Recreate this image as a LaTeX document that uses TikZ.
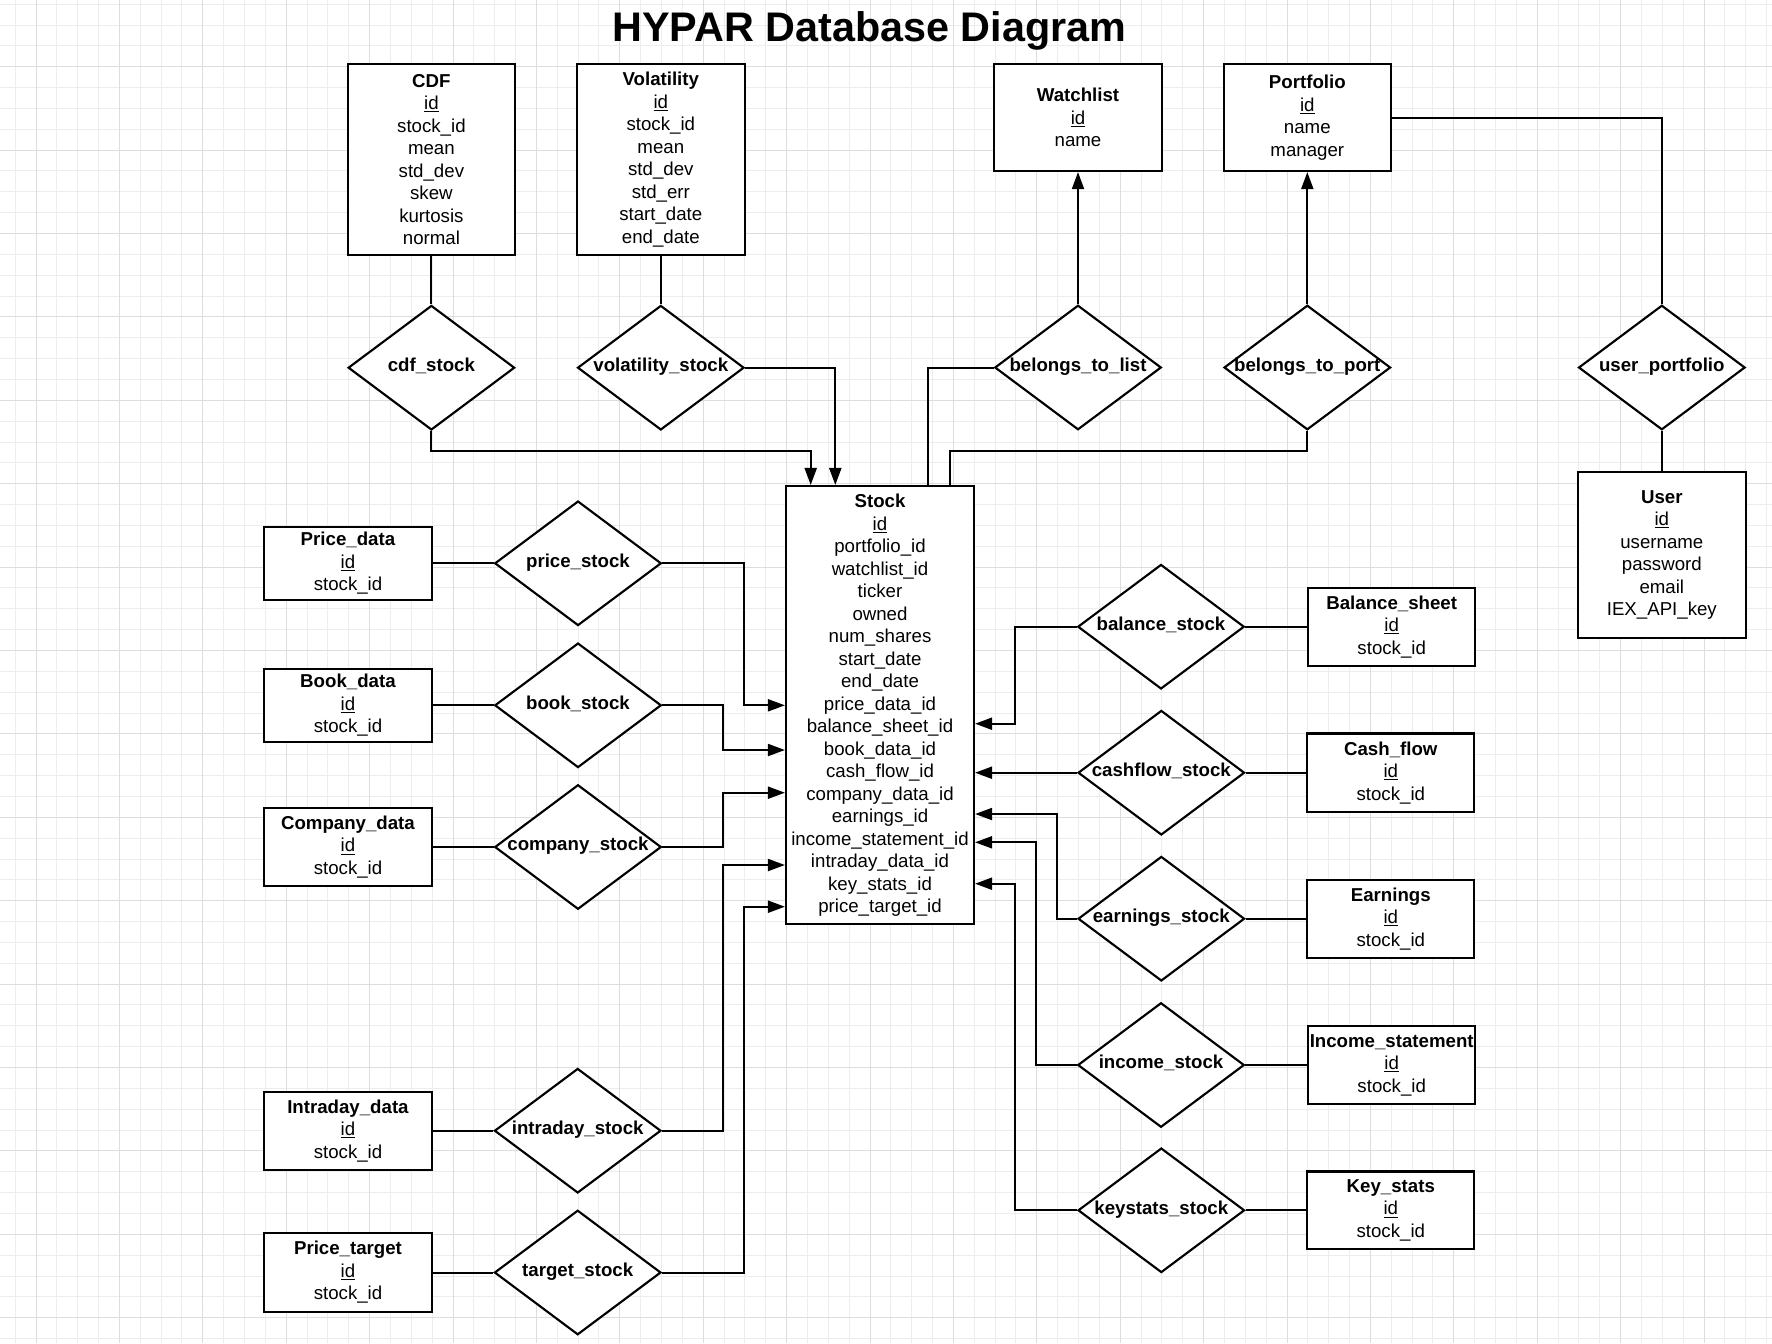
\documentclass[tikz,border=0pt]{standalone}
\usepackage{fontspec}
\setmainfont{Liberation Sans}
\usetikzlibrary{shapes.geometric,arrows.meta,calc}
\definecolor{gminor}{HTML}{EDEDED}
\definecolor{gmajor}{HTML}{DDDDDD}
\tikzset{
  ent/.style 2 args={draw, fill=white, line width=1.6pt, inner sep=0pt,
    align=center, minimum width=#1*0.75pt, minimum height=#2*0.75pt,
    font=\fontsize{14}{16.875}\selectfont},
  rel/.style={diamond, draw, fill=white, line width=1.6pt, inner sep=0pt,
    minimum width=124.9pt, minimum height=93.4pt},
  lab/.style={font=\bfseries\fontsize{14}{16.875}\selectfont, inner sep=0pt,
    text height=10pt, text depth=4.2pt},
  con/.style={line width=1.5pt},
  arr/.style={-{Triangle[length=12.75pt,width=9pt]}},
  gmin/.style={gminor, line width=0.75pt},
  gmaj/.style={gmajor, line width=0.75pt}
}
\begin{document}
\begin{tikzpicture}[x=0.75pt,y=-0.75pt]
\useasboundingbox (0,0) rectangle (1772,1343);
\fill[white] (0,0) rectangle (1772,1343);
\begin{scope}
\clip (0,0) rectangle (1772,1343);
\foreach \i in {0,...,85} \draw[gmin] ({15.15+20.85*\i},0) -- ({15.15+20.85*\i},1343);
\foreach \i in {0,...,65} \draw[gmin] (0,{4.15+20.85*\i}) -- (1772,{4.15+20.85*\i});
\foreach \i in {0,...,21} \draw[gmaj] ({36+83.4*\i},0) -- ({36+83.4*\i},1343);
\foreach \i in {0,...,15} \draw[gmaj] (0,{66.7+83.4*\i}) -- (1772,{66.7+83.4*\i});
\end{scope}

% title
\node[font=\bfseries\fontsize{31}{37}\selectfont, anchor=base, inner sep=0pt] (title) at (869.4,41) {HYPAR Database Diagram};

% entities
\node[ent={167.3}{191}] (cdf) at (431.4,159.5) {\textbf{CDF}\\\underline{id}\\stock\_id\\mean\\std\_dev\\skew\\kurtosis\\normal};
\node[ent={167.7}{191}] (vol) at (660.8,159.5) {\textbf{Volatility}\\\underline{id}\\stock\_id\\mean\\std\_dev\\std\_err\\start\_date\\end\_date};
\node[ent={167.4}{106.7}] (watch) at (1078,117.7) {\textbf{Watchlist}\\\underline{id}\\name};
\node[ent={167.3}{106.7}] (port) at (1307.3,117.7) {\textbf{Portfolio}\\\underline{id}\\name\\manager};
\node[ent={167.5}{166.3}] (user) at (1661.8,554.8) {\textbf{User}\\\underline{id}\\username\\password\\email\\IEX\_API\_key};
\node[ent={188}{438.3}] (stock) at (880,705.2) {\textbf{Stock}\\\underline{id}\\portfolio\_id\\watchlist\_id\\ticker\\owned\\num\_shares\\start\_date\\end\_date\\price\_data\_id\\balance\_sheet\_id\\book\_data\_id\\cash\_flow\_id\\company\_data\_id\\earnings\_id\\income\_statement\_id\\intraday\_data\_id\\key\_stats\_id\\price\_target\_id};

\node[ent={167.4}{73.3}] (pd) at (348,563.3) {\textbf{Price\_data}\\\underline{id}\\stock\_id};
\node[ent={167.4}{73}] (bd) at (348,705.3) {\textbf{Book\_data}\\\underline{id}\\stock\_id};
\node[ent={167.4}{77.7}] (cd) at (348,847) {\textbf{Company\_data}\\\underline{id}\\stock\_id};
\node[ent={167.4}{78.3}] (idata) at (348,1130.7) {\textbf{Intraday\_data}\\\underline{id}\\stock\_id};
\node[ent={167.4}{78.4}] (pt) at (348,1272.5) {\textbf{Price\_target}\\\underline{id}\\stock\_id};

\node[ent={167.3}{78}] (bal) at (1391.7,626.7) {\textbf{Balance\_sheet}\\\underline{id}\\stock\_id};
\node[ent={167}{78.3}] (cf) at (1390.8,772.7) {\textbf{Cash\_flow}\\\underline{id}\\stock\_id};
\node[ent={167}{77.7}] (er) at (1390.8,918.7) {\textbf{Earnings}\\\underline{id}\\stock\_id};
\node[ent={167.3}{78}] (inc) at (1391.7,1065) {\textbf{Income\_statement}\\\underline{id}\\stock\_id};
\node[ent={167}{77.6}] (ks) at (1390.8,1210.3) {\textbf{Key\_stats}\\\underline{id}\\stock\_id};

% relationships
\node[rel] (cdfs) at (431.4,367.7) {};
\node[lab] at (cdfs) {cdf\_stock};
\node[rel] (vols) at (660.8,367.7) {};
\node[lab] at (vols) {volatility\_stock};
\node[rel] (btl) at (1078,367.5) {};
\node[lab] at (btl) {belongs\_to\_list};
\node[rel] (btp) at (1307.3,367.5) {};
\node[lab] at (btp) {belongs\_to\_port};
\node[rel] (up) at (1661.8,367.5) {};
\node[lab] at (up) {user\_portfolio};

\node[rel] (ps) at (578,563.3) {};
\node[lab] at (ps) {price\_stock};
\node[rel] (bs) at (578,705.3) {};
\node[lab] at (bs) {book\_stock};
\node[rel] (cs) at (578,847) {};
\node[lab] at (cs) {company\_stock};
\node[rel] (is) at (577.7,1130.7) {};
\node[lab] at (is) {intraday\_stock};
\node[rel] (ts) at (577.7,1272.5) {};
\node[lab] at (ts) {target\_stock};

\node[rel] (bals) at (1161,626.7) {};
\node[lab] at (bals) {balance\_stock};
\node[rel] (cfs) at (1161.3,772.7) {};
\node[lab] at (cfs) {cashflow\_stock};
\node[rel] (ers) at (1161.3,918.7) {};
\node[lab] at (ers) {earnings\_stock};
\node[rel] (ins) at (1161,1065) {};
\node[lab] at (ins) {income\_stock};
\node[rel] (kss) at (1161.3,1210.3) {};
\node[lab] at (kss) {keystats\_stock};

% top connectors
\draw[con] (cdf.south) -- (cdfs.north);
\draw[con] (vol.south) -- (vols.north);
\draw[con,arr] (cdfs.south) -- (cdfs.south |- 0,450.7) -| (stock.north -| 810.7,0);
\draw[con,arr] (vols.east) -| (stock.north -| 835.3,0);
\draw[con] (stock.north -| 928,0) |- (btl.west);
\draw[con,arr] (btl.north) -- (watch.south);
\draw[con] (btp.south) -- (btp.south |- 0,451) -| (stock.north -| 950,0);
\draw[con,arr] (btp.north) -- (port.south);
\draw[con] (port.east) -| (up.north);
\draw[con] (up.south) -- (user.north);

% left connectors
\draw[con] (pd.east) -- (ps.west);
\draw[con,arr] (ps.east) -- (ps.east -| 744.3,0) |- (stock.west |- 0,705.3);
\draw[con] (bd.east) -- (bs.west);
\draw[con,arr] (bs.east) -- (bs.east -| 723.3,0) |- (stock.west |- 0,750);
\draw[con] (cd.east) -- (cs.west);
\draw[con,arr] (cs.east) -- (cs.east -| 723.3,0) |- (stock.west |- 0,792.7);
\draw[con] (idata.east) -- (is.west);
\draw[con,arr] (is.east) -- (is.east -| 723.3,0) |- (stock.west |- 0,865);
\draw[con] (pt.east) -- (ts.west);
\draw[con,arr] (ts.east) -- (ts.east -| 744.3,0) |- (stock.west |- 0,906.7);

% right connectors
\draw[con] (bals.east) -- (bal.west);
\draw[con,arr] (bals.west) -- (bals.west -| 1015.3,0) |- (stock.east |- 0,723.7);
\draw[con] (cfs.east) -- (cf.west);
\draw[con,arr] (cfs.west) -- (stock.east |- cfs.west);
\draw[con] (ers.east) -- (er.west);
\draw[con,arr] (ers.west) -- (ers.west -| 1057.3,0) |- (stock.east |- 0,814);
\draw[con] (ins.east) -- (inc.west);
\draw[con,arr] (ins.west) -- (ins.west -| 1036,0) |- (stock.east |- 0,842.3);
\draw[con] (kss.east) -- (ks.west);
\draw[con,arr] (kss.west) -- (kss.west -| 1015.3,0) |- (stock.east |- 0,883.7);
\end{tikzpicture}
\end{document}
